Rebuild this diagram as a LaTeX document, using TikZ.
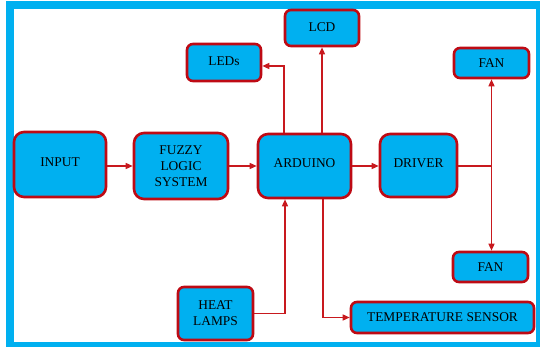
\documentclass[tikz,border=0pt]{standalone}
\usepackage{fontspec}
\setmainfont{Liberation Serif}
\usepackage{xcolor}
\usepackage{tikz}
\usetikzlibrary{arrows.meta, calc}

\definecolor{boxcyan}{RGB}{0,176,240}
\definecolor{boxred}{RGB}{190,10,20}
\definecolor{linered}{RGB}{200,25,30}

\begin{document}
\begin{tikzpicture}[
  x=1pt, y=-1pt,
  font=\fontsize{13.4}{16}\selectfont,
  box/.style={draw=boxred, line width=2.6pt, rounded corners=10pt,
              fill=boxcyan, align=center, inner sep=2pt},
  sbox/.style={box, rounded corners=6pt},
  arr/.style={-{Triangle[length=7pt, width=6pt]}, linered, line width=1.4pt},
  lin/.style={linered, line width=1.4pt}
]
  \clip (0,0) rectangle (540,347);
  % Frame
  \draw[boxcyan, line width=8pt] (10,5) rectangle (540,346);

  % Middle row
  \node[box, minimum width=92pt, minimum height=65pt] (input)   at (60,164.5)  {\raisebox{5pt}{INPUT}};
  \node[box, minimum width=94pt, minimum height=66pt] (fuzzy)   at (181,166)   {FUZZY\\LOGIC\\SYSTEM};
  \node[box, minimum width=93pt, minimum height=64pt] (arduino) at (304.5,166) {\raisebox{5pt}{ARDUINO}};
  \node[box, minimum width=77pt, minimum height=63pt] (driver)  at (418.5,165.5) {\raisebox{5pt}{DRIVER}};
  % Top row
  \node[sbox, minimum width=74pt, minimum height=37pt] (leds) at (224,62.5) {\raisebox{2pt}{LEDs}};
  \node[sbox, minimum width=74pt, minimum height=36pt] (lcd)  at (322,28)   {\raisebox{2pt}{LCD}};
  \node[sbox, minimum width=75pt, minimum height=30pt] (fantop) at (491.5,63) {FAN};
  % Bottom row
  \node[sbox, minimum width=75pt, minimum height=30pt] (fanbot) at (490.5,267) {FAN};
  \node[sbox, minimum width=75pt, minimum height=53pt] (lamps)  at (215.5,313.5) {HEAT\\LAMPS};
  \node[sbox, minimum width=183pt, minimum height=31pt] (temp)  at (442.5,317.5) {TEMPERATURE SENSOR};

  % Main chain
  \draw[arr] (input.east |- fuzzy.west) -- (fuzzy.west);
  \draw[arr] (fuzzy.east)   -- (arduino.west |- fuzzy.east);
  \draw[arr] (arduino.east) -- (driver.west |- arduino.east);

  % Driver to both fans
  \draw[lin] (driver.east |- arduino.east) -- (fantop.south |- arduino.east);
  \draw[arr] (fantop.south |- arduino.east) -- (fantop.south);
  \draw[arr] (fantop.south |- arduino.east) -- (fanbot.north -| fantop.south);

  % Arduino outputs
  \draw[arr] ([xshift=-20.5pt]arduino.north) |- ([yshift=-3.5pt]leds.east);
  \draw[arr] (arduino.north -| lcd.south) -- (lcd.south);
  \draw[arr] ([xshift=18.5pt]arduino.south) |- (temp.west);

  % Heat lamps in
  \draw[arr] (lamps.east) -| ([xshift=-19.5pt]arduino.south);

\end{tikzpicture}
\end{document}
